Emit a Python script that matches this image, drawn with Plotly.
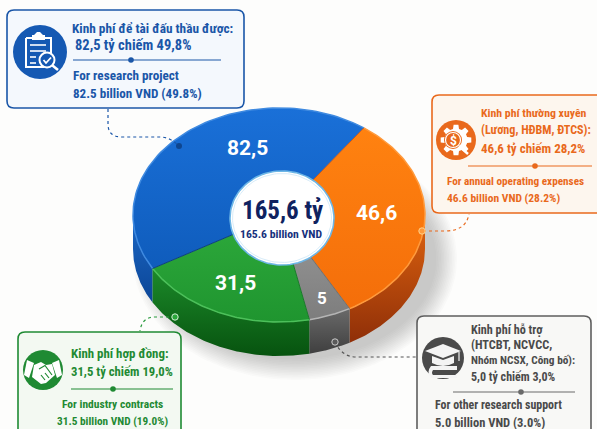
import math
import plotly.graph_objects as go

# ---- data (circular order, clockwise from the blue slice)
categories = ["Research project", "Annual operating expenses", "Other research support", "Industry contracts"]
values = [82.5, 46.6, 5.0, 31.5]
value_labels = ["82,5", "46,6", "5", "31,5"]
# share of the ring each slice occupies as drawn in the picture (the artwork is not to scale)
drawn_share = [43.2, 32.1, 4.7, 20.0]
total_label = "165,6 tỷ"
total_label_en = "165.6 billion VND"

top_hi = ["#1a70d8", "#ff8210", "#9a9a9a", "#2eaa3c"]
top_lo = ["#0f5cbc", "#f46e0a", "#7d7d7d", "#1f952f"]
side_hi = ["#1c68c6", "#e0640f", "#6a6a6a", "#1c8a2a"]
side_lo = ["#0b4596", "#8f2f08", "#3f3f3f", "#07530f"]
rim = ["#3f8ae0", "#ff9a3c", "#b5b5b5", "#4cc05a"]

CX, CY, RX, RY, DEPTH = 279, 215, 146, 107, 34
START = 240
HX, HY, HRX, HRY = 282, 218, 52, 47
FONT = "Liberation Sans Narrow, Roboto Condensed, Roboto"


def pt(deg, z=0.0, rx=RX, ry=RY):
    a = math.radians(deg)
    return CX + rx * math.sin(a), CY - ry * math.cos(a) + z


def arc(a0, a1, z=0.0, n=90):
    pts = [pt(a0 + (a1 - a0) * i / n, z) for i in range(n + 1)]
    return [p[0] for p in pts], [p[1] for p in pts]


def ell(cx, cy, rx, ry, n=120):
    xs = [cx + rx * math.cos(2 * math.pi * i / n) for i in range(n + 1)]
    ys = [cy + ry * math.sin(2 * math.pi * i / n) for i in range(n + 1)]
    return xs, ys


fig = go.Figure()


def poly(xs, ys, color=None, grad=None, line=None, lw=0):
    kw = dict(x=xs, y=ys, mode="lines", fill="toself", hoverinfo="skip", showlegend=False,
              line=dict(width=lw, color=line or "rgba(0,0,0,0)"))
    if grad:
        kw["fillgradient"] = dict(type=grad[0], colorscale=[[0, grad[1]], [1, grad[2]]])
    else:
        kw["fillcolor"] = color
    fig.add_trace(go.Scatter(**kw))


# soft shadow
for i in range(14):
    xs, ys = ell(CX + 16, CY + DEPTH + 10, RX + 16 - i * 1.6, RY + 14 - i * 1.6)
    poly(xs, ys, "rgba(90,90,90,0.022)")

bounds = []
a = START
tot = sum(drawn_share)
for s in drawn_share:
    bounds.append((a, a + s / tot * 360))
    a += s / tot * 360

# side walls, only the part that faces the viewer (90..270 deg)
for (a0, a1), hi, lo in zip(bounds, side_hi, side_lo):
    for shift in (0, 360, -360):
        b0, b1 = max(a0 + shift, 90), min(a1 + shift, 270)
        if b1 > b0:
            x1, y1 = arc(b0, b1)
            x2, y2 = arc(b1, b0, DEPTH)
            poly(x1 + x2 + x1[:1], y1 + y2 + y1[:1], grad=("vertical", lo, hi))

# top faces
for (a0, a1), hi, lo in zip(bounds, top_hi, top_lo):
    x1, y1 = arc(a0, a1)
    poly([CX] + x1 + [CX], [CY] + y1 + [CY], grad=("vertical", lo, hi))

# rim highlight on the top faces
for (a0, a1), c in zip(bounds, rim):
    x1, y1 = arc(a0, a1)
    fig.add_trace(go.Scatter(x=x1, y=y1, mode="lines", line=dict(color=c, width=1.5),
                             hoverinfo="skip", showlegend=False))

# seams between slices
for (a0, a1), c in zip(bounds, ["#0b3f80", "#c9591a", "#707070", "#1a7a2a"]):
    px, py = pt(a0)
    fig.add_trace(go.Scatter(x=[CX, px], y=[CY, py], mode="lines", line=dict(color=c, width=1),
                             hoverinfo="skip", showlegend=False))

# hub
xs, ys = ell(HX, HY, HRX, HRY)
poly(xs, ys, "#ffffff", line="#6db6e6", lw=1.6)
xs, ys = ell(HX, HY, HRX - 2.5, HRY - 2.5)
poly(xs, ys, "#ffffff", line="#d7ecf9", lw=1)

shapes, notes = [], []


def text(x, y, s, color, size=13.5, anchor="left", weight=700, family=FONT):
    notes.append(dict(x=x - (1 if anchor == "left" else 0), y=y, text=s, xref="x", yref="y", showarrow=False,
                      xanchor=anchor, yanchor="middle",
                      font=dict(family=family, size=size, color=color, weight=weight), align=anchor,
                      borderpad=0))


def path(d, fill=None, line=None, w=0, dash=None, layer="above"):
    ln = dict(color=line or "rgba(0,0,0,0)", width=w)
    if dash:
        ln["dash"] = dash
    shapes.append(dict(type="path", path=d, xref="x", yref="y", layer=layer, line=ln,
                       fillcolor=fill or "rgba(0,0,0,0)"))


def rbox(x0, y0, x1, y1, r, fill, line, w=1.6):
    d = (f"M{x0+r},{y0} L{x1-r},{y0} Q{x1},{y0} {x1},{y0+r} L{x1},{y1-r} Q{x1},{y1} {x1-r},{y1} "
         f"L{x0+r},{y1} Q{x0},{y1} {x0},{y1-r} L{x0},{y0+r} Q{x0},{y0} {x0+r},{y0} Z")
    path(d, fill, line, w)


def circ(cx, cy, r, fill=None, line=None, w=0):
    shapes.append(dict(type="circle", x0=cx - r, x1=cx + r, y0=cy - r, y1=cy + r, xref="x", yref="y",
                       layer="above", fillcolor=fill or "rgba(0,0,0,0)",
                       line=dict(color=line or "rgba(0,0,0,0)", width=w)))


def seg(x0, y0, x1, y1, c, w=1.5):
    shapes.append(dict(type="line", x0=x0, y0=y0, x1=x1, y1=y1, xref="x", yref="y", layer="above",
                       line=dict(color=c, width=w)))


def divider(x0, x1, xd, y, c):
    seg(x0, y, x1, y, c, 1.2)
    circ(xd, y, 2.8, c)


NAVY = "#1a56a8"
ORANGE = "#e9691c"
GREEN = "#1f8a33"
GRAY = "#4a4a4a"

# ---- boxes
rbox(7, 10, 244, 108, 7, "#f4f8fd", NAVY)
rbox(432, 95, 605, 213, 7, "#fdf6ee", ORANGE)
rbox(18, 332, 181, 445, 7, "#f3f9f2", GREEN)
rbox(417, 316, 591, 445, 7, "#f8f8f6", "#5e5e5e")

# ---- connectors
path("M108,109 L108,124 Q108,137 122,137 L160,137 Q170,137 179,146", line="#1a56a8", w=1.2, dash="dot")
path("M423,231 L445,231 Q466,231 469,214", line=ORANGE, w=1.2, dash="dot")
path("M175,317 L155,317 Q142,317 140,331", line="#2b9a3e", w=1.2, dash="dot")
path("M335,342 Q342,357 356,357 L417,357", line="#555555", w=1.2, dash="dot")
circ(179, 146, 3, "#0e468f")
circ(422, 231, 3.2, "#ff9a3c", "#ffd28a", 1)
circ(175, 317, 3.2, "#2aa63a", "#d8f0da", 1)
circ(335, 342, 3.2, "#5a5a5a", "#cccccc", 1)

# ---- icon 1: clipboard + magnifier
circ(40, 52, 27, "#1559b3")
path("M26,38 L51,38 L51,54", None, "#fff", 2)
path("M26,38 L26,67 L44,67", None, "#fff", 2)
path("M34,35 L37,32 L40,32 L43,35 L45,35 L45,40 L32,40 L32,35 Z", "#fff")
for yy, xe in ((45, 46), (51, 46), (57, 36), (63, 36)):
    seg(30, yy, xe, yy, "#fff", 1.6)
circ(47, 60, 7.5, "#1559b3", "#fff", 2)
path("M43.5,60 L46,63 L51,57.5", None, "#fff", 1.8)
seg(52.5, 65.5, 58, 70, "#fff", 2.6)

# ---- icon 2: gear + coin
circ(456, 140, 20, ORANGE)
gear = []
for i in range(8):
    c = i * 45
    for off, r in ((-15, 11.5), (-9, 15.5), (9, 15.5), (15, 11.5)):
        an = math.radians(c + off)
        gear.append((456 + r * math.cos(an), 140 + r * math.sin(an)))
path("M" + " L".join(f"{x:.1f},{y:.1f}" for x, y in gear) + " Z", "#fff")
circ(453, 140, 9, ORANGE)
circ(453, 140, 7.5, None, "#fff", 1.2)
text(453, 140.5, "$", "#fff", 12, "center", family="Roboto")
seg(459, 146, 468, 154, "#fff", 2.4)

# ---- icon 3: handshake
circ(43, 370, 20, GREEN)
path("M27,360 L34,363 L29,378 L24,375 Z", "#fff")
path("M59,360 L52,363 L57,378 L62,375 Z", "#fff")
path("M34,365 L41,362 L46,365 L52,364 L55,375 L46,383 L41,384 L32,377 Z", "#fff")
path("M39,369 L45,365.5 L52,375 M45,373 L49,378 M41,375 L45,380", None, GREEN, 1.2)

# ---- icon 4: cap + book
circ(443, 358, 21, GRAY)
path("M443,344 L461,351 L443,358 L425,351 Z", "#f4f4f4")
path("M432,356 L443,360 L454,356 L454,363 Q443,369 432,363 Z", "#f4f4f4")
seg(459, 352, 459, 361, "#f4f4f4", 1.2)
path("M431,366 L457,366 L457,370 L433,370 Q431,373 433,375 L457,375 L457,378 L431,378 Q426,372 431,366 Z", "#f4f4f4")

# ---- box 1 text
text(72, 28, "Kinh phí để tài đấu thầu được:", NAVY, 13.3)
text(75, 45, "82,5 tỷ chiếm 49,8%", NAVY, 14.5)
divider(73, 221, 131, 60, NAVY)
text(73, 75, "For research project", NAVY, 13.2)
text(73, 93, "82.5 billion VND (49.8%)", NAVY, 13.1)

# ---- box 2 text
text(481, 113, "Kinh phí thường xuyên", ORANGE, 11.8)
text(481, 130, "(Lương, HĐBM, ĐTCS):", ORANGE, 12.1)
text(481, 148, "46,6 tỷ chiếm 28,2%", ORANGE, 13.0)
divider(468, 592, 535, 166, ORANGE)
text(447, 181, "For annual operating expenses", ORANGE, 11.2)
text(447, 198, "46.6 billion VND (28.2%)", ORANGE, 11.5)

# ---- box 3 text
text(71, 353, "Kinh phí hợp đồng:", GREEN, 12.9)
text(71, 371, "31,5 tỷ chiếm 19,0%", GREEN, 12.7)
divider(71, 173, 113, 389, GREEN)
text(112, 404, "For industry contracts", GREEN, 11.5, "center")
text(112, 421, "31.5 billion VND (19.0%)", GREEN, 11.3, "center")

# ---- box 4 text
text(471, 330, "Kinh phí hỗ trợ", GRAY, 12.2)
text(471, 345, "(HTCBT, NCVCC,", GRAY, 12.3)
text(471, 360, "Nhóm NCSX, Công bố):", GRAY, 11.3)
text(471, 377, "5,0 tỷ chiếm 3,0%", GRAY, 12.0)
divider(453, 575, 521, 392, "#6a6a6a")
text(435, 405, "For other research support", GRAY, 11.9)
text(435, 422, "5.0 billion VND (3.0%)", GRAY, 12.5)

# ---- slice labels, from the data lists
for lab, (x, y), size in zip(value_labels, [(247, 148), (376, 213), (322, 298), (235, 283)], [21, 21, 17, 21]):
    text(x, y, lab, "#ffffff", size, "center", family="Roboto")

text(282, 210, total_label, "#0f2260", 25, "center")
text(281, 234, total_label_en, "#16307c", 11.7, "center")

fig.update_layout(
    width=597, height=429, autosize=False, margin=dict(l=0, r=0, t=0, b=0),
    paper_bgcolor="#fdfdfc", plot_bgcolor="#fdfdfc", showlegend=False,
    xaxis=dict(range=[0, 597], visible=False, fixedrange=True),
    yaxis=dict(range=[429, 0], visible=False, fixedrange=True),
    shapes=shapes, annotations=notes,
)
fig.write_html("out.html", config={"displayModeBar": False},
               post_script="document.body.style.margin='0';document.body.style.overflow='hidden';")
